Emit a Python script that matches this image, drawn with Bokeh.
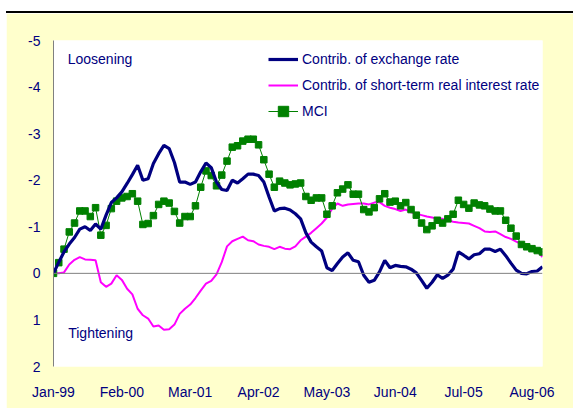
from bokeh.plotting import figure
from bokeh.models import Range1d, FixedTicker, Span, Legend, LegendItem, Label, Div
from bokeh.layouts import column
from bokeh.embed import file_html
from bokeh.resources import INLINE

# ---- data (monthly, Jan-99 .. Oct-06) ----
month_index = list(range(94))
tick_positions = [0, 13, 26, 39, 52, 65, 78, 91]
tick_labels = ["Jan-99", "Feb-00", "Mar-01", "Apr-02", "May-03", "Jun-04", "Jul-05", "Aug-06"]
y_ticks = [-5, -4, -3, -2, -1, 0, 1, 2]
y_tick_labels = ["-5", "-4", "-3", "-2", "-1", "0", "1", "2"]

exchange = [0.0, -0.24, -0.46, -0.63, -0.77, -0.95, -1.0, -0.92, -1.06, -0.95,
            -1.25, -1.52, -1.62, -1.75, -1.93, -2.12, -2.32, -2.0, -2.03, -2.36,
            -2.57, -2.75, -2.68, -2.38, -1.96, -1.96, -1.91, -1.96, -2.18, -2.37,
            -2.27, -1.96, -1.80, -1.78, -2.0, -1.94, -2.03, -2.13, -2.13, -2.10,
            -1.96, -1.64, -1.34, -1.39, -1.40, -1.36, -1.28, -1.17, -0.87, -0.67,
            -0.57, -0.48, -0.12, -0.06, -0.21, -0.35, -0.44, -0.28, -0.25, 0.04,
            0.19, 0.15, -0.03, -0.28, -0.12, -0.17, -0.15, -0.14, -0.09, -0.01,
            0.15, 0.32, 0.19, 0.03, 0.11, 0.04, -0.09, -0.46, -0.39, -0.31,
            -0.40, -0.42, -0.52, -0.52, -0.47, -0.52, -0.38, -0.22, -0.07, 0.0,
            0.01, -0.04, -0.05, -0.14]

interest = [0.0, 0.0, -0.02, -0.19, -0.29, -0.35, -0.30, -0.29, -0.28, 0.19,
            0.29, 0.22, 0.04, 0.14, 0.33, 0.45, 0.76, 0.90, 0.97, 1.14,
            1.12, 1.21, 1.20, 1.10, 0.87, 0.76, 0.67, 0.53, 0.37, 0.22,
            0.16, 0.02, -0.24, -0.58, -0.69, -0.74, -0.79, -0.71, -0.69, -0.62,
            -0.59, -0.57, -0.52, -0.57, -0.53, -0.52, -0.58, -0.71, -0.79, -0.87,
            -0.97, -1.07, -1.20, -1.39, -1.50, -1.45, -1.48, -1.49, -1.50, -1.50,
            -1.48, -1.52, -1.53, -1.45, -1.41, -1.38, -1.34, -1.37, -1.31, -1.28,
            -1.25, -1.22, -1.20, -1.18, -1.17, -1.14, -1.11, -1.09, -1.08, -1.07,
            -1.02, -0.97, -0.90, -0.89, -0.90, -0.84, -0.78, -0.74, -0.68, -0.63,
            -0.58, -0.54, -0.48, -0.35]

mci = [0.0, -0.23, -0.52, -0.89, -1.08, -1.34, -1.34, -1.22, -1.41, -0.82,
       -1.03, -1.39, -1.55, -1.62, -1.65, -1.71, -1.55, -1.05, -1.07, -1.24,
       -1.48, -1.55, -1.51, -1.33, -1.08, -1.22, -1.22, -1.45, -1.85, -2.20,
       -2.10, -1.88, -2.11, -2.41, -2.71, -2.74, -2.84, -2.88, -2.88, -2.76,
       -2.44, -2.13, -1.85, -1.98, -1.94, -1.90, -1.92, -1.94, -1.65, -1.57,
       -1.62, -1.62, -1.27, -1.45, -1.73, -1.81, -1.90, -1.70, -1.70, -1.37,
       -1.32, -1.41, -1.60, -1.71, -1.53, -1.55, -1.45, -1.52, -1.37, -1.25,
       -1.08, -0.94, -1.02, -1.14, -1.08, -1.17, -1.27, -1.57, -1.48, -1.40,
       -1.51, -1.47, -1.45, -1.38, -1.34, -1.34, -1.14, -0.97, -0.80, -0.62,
       -0.57, -0.53, -0.49, -0.46]

FONT = "Liberation Sans"
TEXT = "#000080"

p = figure(width=567, height=395, output_backend="svg", toolbar_location=None,
           x_range=Range1d(month_index[0], month_index[-1]), y_range=Range1d(2, -5),
           min_border_left=47, min_border_right=31, min_border_top=27, min_border_bottom=42,
           margin=0)
p.background_fill_color = "white"
p.border_fill_color = "#FFFFCC"
p.outline_line_color = None
p.xgrid.visible = False
p.ygrid.visible = False

# axes
p.xaxis.ticker = FixedTicker(ticks=tick_positions)
p.xaxis.major_label_overrides = {t: l for t, l in zip(tick_positions, tick_labels)}
p.xaxis.axis_line_color = None
p.xaxis.major_label_standoff = 17
p.yaxis.ticker = FixedTicker(ticks=y_ticks)
p.yaxis.major_label_overrides = {t: l for t, l in zip(y_ticks, y_tick_labels)}
p.yaxis.axis_line_color = "#808080"
p.yaxis.major_label_standoff = 13
for ax in (p.xaxis, p.yaxis):
    ax.major_tick_line_color = None
    ax.minor_tick_line_color = None
    ax.major_tick_out = 0
    ax.major_tick_in = 0
    ax.minor_tick_out = 0
    ax.minor_tick_in = 0
    ax.major_label_text_font = FONT
    ax.major_label_text_font_size = "14px"
    ax.major_label_text_color = TEXT

p.add_layout(Span(location=0, dimension="width", line_color="#808080", line_width=1))

r_rate = p.line(month_index, interest, line_color="#FF00FF", line_width=2)
r_mci_l = p.line(month_index, mci, line_color="#008000", line_width=1)
r_mci_s = p.scatter(month_index, mci, marker="square", size=6.5, fill_color="#008000",
                    line_color="#008000")
r_exch = p.line(month_index, exchange, line_color="#000080", line_width=3.2)

legend = Legend(items=[
    LegendItem(label="Contrib. of exchange rate", renderers=[r_exch]),
    LegendItem(label="Contrib. of short-term real interest rate", renderers=[r_rate]),
    LegendItem(label="MCI", renderers=[r_mci_l, r_mci_s]),
], location=(215, 242), orientation="vertical", glyph_width=30, glyph_height=26,
   label_height=26, spacing=0, padding=0, margin=0, label_standoff=4,
   border_line_color=None, background_fill_alpha=0,
   label_text_font=FONT, label_text_font_size="14px", label_text_color=TEXT)
p.add_layout(legend)

p.add_layout(Label(x=2.7, y=-4.6, text="Loosening", text_baseline="middle", text_align="left",
                   text_font=FONT, text_font_size="14px", text_color=TEXT))
p.add_layout(Label(x=2.8, y=1.29, text="Tightening", text_baseline="middle", text_align="left",
                   text_font=FONT, text_font_size="14px", text_color=TEXT))

top_rule = Div(width=567, height=13, margin=0,
               styles={"border-bottom": "2px solid black", "box-sizing": "border-box"})
layout = column(top_rule, p, spacing=0, margin=(0, 0, 0, 6))

open("out.html", "w").write(file_html(layout, INLINE))
